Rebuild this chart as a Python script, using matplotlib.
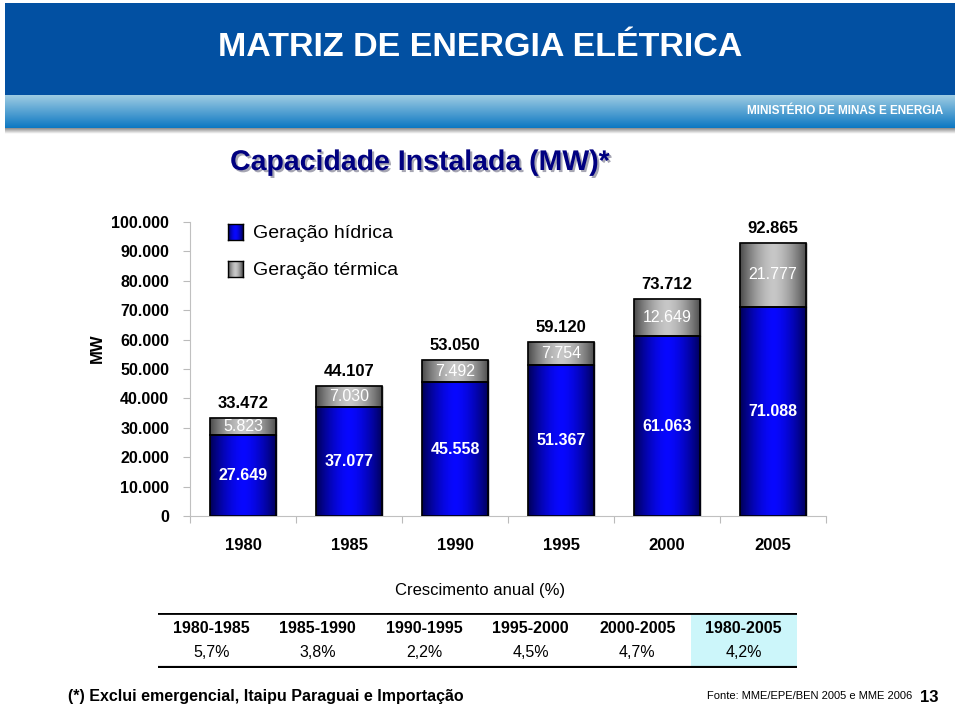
import numpy as np
import matplotlib
matplotlib.use("Agg")
import matplotlib.pyplot as plt
from matplotlib.patches import Rectangle
from matplotlib import patheffects as pe
from matplotlib.font_manager import fontManager

# data
anos = ["1980", "1985", "1990", "1995", "2000", "2005"]
hidrica = [27649, 37077, 45558, 51367, 61063, 71088]
termica = [5823, 7030, 7492, 7754, 12649, 21777]
totais = [33472, 44107, 53050, 59120, 73712, 92865]
periodos = ["1980-1985", "1985-1990", "1990-1995", "1995-2000", "2000-2005", "1980-2005"]
crescimento = ["5,7%", "3,8%", "2,2%", "4,5%", "4,7%", "4,2%"]

names = {f.name for f in fontManager.ttflist}
fam = "Liberation Sans Narrow" if "Liberation Sans Narrow" in names else "Liberation Sans"
plt.rcParams["font.family"] = [fam, "DejaVu Sans"]

def fmt(v):
    return f"{v:,}".replace(",", ".")

W, H = 959, 708
fig = plt.figure(figsize=(W / 100, H / 100), dpi=100)

def fx(px):
    return px / W

def fy(py):
    return 1 - py / H

# header
fig.patches.append(Rectangle((fx(5), fy(95)), fx(950), 92 / H, transform=fig.transFigure,
                             facecolor="#0250a2", edgecolor="none"))
strip = fig.add_axes([fx(5), fy(128), fx(950), 33 / H])
grad = np.linspace(0, 1, 64)[:, None]
c0 = np.array([0.62, 0.80, 0.89])
c1 = np.array([0.05, 0.47, 0.76])
strip.imshow((c0 + (c1 - c0) * grad[:, :, None]) * np.ones((64, 2, 3)), aspect="auto",
             extent=[0, 1, 0, 1])
strip.axis("off")
shadow = fig.add_axes([fx(5), fy(134), fx(950), 6 / H])
sg = np.linspace(0.55, 1.0, 16)[:, None, None] * np.ones((16, 2, 3))
shadow.imshow(sg, aspect="auto", extent=[0, 1, 0, 1])
shadow.axis("off")

fig.text(fx(480), fy(47), "MATRIZ DE ENERGIA ELÉTRICA", color="white", fontsize=24.5,
         fontweight="bold", ha="center", va="center")
fig.text(fx(943), fy(111), "MINISTÉRIO DE MINAS E ENERGIA", color="white", fontsize=8.5,
         fontweight="bold", ha="right", va="center")
fig.text(fx(420), fy(163), "Capacidade Instalada (MW)*", color="#000080", fontsize=20.5,
         fontweight="bold", ha="center", va="center",
         path_effects=[pe.SimplePatchShadow(offset=(1.5, -1.5), shadow_rgbFace="#9090a0", alpha=0.8),
                       pe.Normal()])

# chart
ax = fig.add_axes([fx(190), fy(516), fx(826) - fx(190), (516 - 222) / H])
x = np.arange(len(anos))
bw = 0.63
b1 = ax.bar(x, hidrica, bw, color="#0000c8", edgecolor="black", linewidth=1, zorder=2)
b2 = ax.bar(x, termica, bw, bottom=hidrica, color="#808080", edgecolor="black", linewidth=1, zorder=2)

prof = np.abs(np.linspace(-1, 1, 60))
shade = 1 - prof ** 1.6
blue_img = np.zeros((2, 60, 3))
blue_img[:, :, 2] = 0.35 + 0.65 * shade
blue_img[:, :, 0] = 0.03 * shade
blue_img[:, :, 1] = 0.03 * shade
gray_img = np.ones((2, 60, 3)) * (0.30 + 0.48 * shade)[None, :, None]

for bars, img in ((b1, blue_img), (b2, gray_img)):
    for p in bars:
        bx, by = p.get_x(), p.get_y()
        im = ax.imshow(img, aspect="auto", extent=[bx, bx + p.get_width(), by, by + p.get_height()],
                       zorder=2.5, interpolation="bilinear")
        im.set_clip_path(p)
        edge = Rectangle((bx, by), p.get_width(), p.get_height(), facecolor="none",
                         edgecolor="black", linewidth=1.2, zorder=3)
        ax.add_patch(edge)

for i in range(len(anos)):
    ax.text(x[i], hidrica[i] / 2, fmt(hidrica[i]), color="white", fontsize=11.5,
            fontweight="bold", ha="center", va="center", zorder=4)
    ax.text(x[i], hidrica[i] + termica[i] / 2, fmt(termica[i]), color="white", fontsize=11.5,
            ha="center", va="center", zorder=4)
    ax.annotate(fmt(totais[i]), (x[i], totais[i]), xytext=(0, 5), textcoords="offset points",
                ha="center", va="bottom", fontsize=12, fontweight="bold", zorder=4)

ax.set_xlim(-0.5, len(anos) - 0.5)
ax.set_ylim(0, 100000)
ax.set_yticks(np.arange(0, 100001, 10000))
ax.set_yticklabels([fmt(v) for v in range(0, 100001, 10000)], fontsize=11.5, fontweight="bold")
ax.set_xticks(np.arange(-0.5, len(anos), 1))
ax.set_xticklabels([])
ax.set_xticks(x, minor=True)
ax.set_xticklabels(anos, minor=True, fontsize=12, fontweight="bold")
ax.tick_params(axis="x", which="minor", length=0, pad=16)
ax.tick_params(axis="x", which="major", length=5, color="#bbbbbb")
ax.tick_params(axis="y", length=5, color="#bbbbbb", pad=10)
for s in ("top", "right"):
    ax.spines[s].set_visible(False)
for s in ("left", "bottom"):
    ax.spines[s].set_color("#c0c0c0")
fig.text(fx(97), fy(348), "MW", rotation=90, fontsize=12, fontweight="bold", ha="center", va="center")

# legend
for py, img, lbl in ((232, blue_img, "Geração hídrica"), (269, gray_img, "Geração térmica")):
    la = fig.add_axes([fx(228), fy(py + 8), fx(15), 16 / H])
    la.imshow(img, aspect="auto", extent=[0, 1, 0, 1])
    la.set_xticks([])
    la.set_yticks([])
    for s in la.spines.values():
        s.set_linewidth(1)
    fig.text(fx(253), fy(py + 2), lbl, fontsize=14, ha="left", va="center")

# growth table
fig.text(fx(480), fy(590), "Crescimento anual (%)", fontsize=12, ha="center", va="center")
tab = fig.add_axes([fx(158), fy(668), fx(797) - fx(158), (668 - 613) / H])
tab.set_xlim(0, len(periodos))
tab.set_ylim(0, 2)
tab.axis("off")
tab.add_patch(Rectangle((len(periodos) - 1, 0), 1, 2, facecolor="#ccf6fa", edgecolor="none"))
tab.axhline(2, color="black", linewidth=2)
tab.axhline(0, color="black", linewidth=3)
for j, (p, c) in enumerate(zip(periodos, crescimento)):
    tab.text(j + 0.5, 1.45, p, fontsize=11.5, fontweight="bold", ha="center", va="center")
    tab.text(j + 0.5, 0.55, c, fontsize=11.5, ha="center", va="center")

# footer
fig.text(fx(68), fy(697), "(*) Exclui emergencial, Itaipu Paraguai e Importação", fontsize=11.5,
         fontweight="bold", ha="left", va="center")
fig.text(fx(912), fy(696), "Fonte: MME/EPE/BEN 2005 e MME 2006", fontsize=8, ha="right", va="center")
fig.text(fx(920), fy(698), "13", fontsize=12, fontweight="bold", ha="left", va="center")

fig.savefig("out.png", dpi=100)
